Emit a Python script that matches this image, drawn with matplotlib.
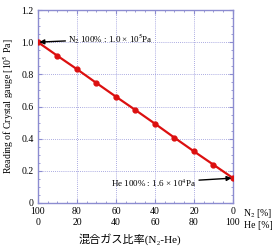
import matplotlib
matplotlib.use("Agg")
import matplotlib.pyplot as plt
from matplotlib.ticker import MultipleLocator

plt.rcParams.update({
    "font.family": ["Liberation Serif", "Noto Sans CJK JP"],
    "mathtext.fontset": "stix",
    "font.size": 7,
})

# N2 ratio [%] and crystal gauge reading [1e5 Pa]
n2_ratio = [100, 90, 80, 70, 60, 50, 40, 30, 20, 10, 0]
reading = [1.0, 0.915, 0.832, 0.746, 0.661, 0.578, 0.493, 0.406, 0.321, 0.238, 0.155]
x_ticks = [100, 80, 60, 40, 20, 0]
x_ticklabels = ["100\n0", "80\n20", "60\n40", "40\n60", "20\n80", "0\n100"]

axis_col = "#8c8cd0"
red = "#dc1010"

fig = plt.figure(figsize=(2.77, 2.5), dpi=100)
ax = fig.add_axes([0.137, 0.188, 0.704, 0.772])

ax.plot(n2_ratio, reading, color=red, lw=1.6, marker="o", ms=3.5, zorder=3)

ax.set_xlim(100, 0)
ax.set_ylim(0, 1.2)
ax.set_xticks(x_ticks)
ax.set_xticklabels(x_ticklabels, linespacing=1.3)
ax.set_yticks([0, 0.2, 0.4, 0.6, 0.8, 1.0, 1.2])
ax.set_yticklabels(["0", "0.2", "0.4", "0.6", "0.8", "1.0", "1.2"])
ax.xaxis.set_minor_locator(MultipleLocator(5))
ax.yaxis.set_minor_locator(MultipleLocator(0.05))
ax.tick_params(which="both", direction="in", top=True, right=True,
               color=axis_col, labelsize=7, pad=3)
ax.tick_params(which="major", length=3)
ax.tick_params(which="minor", length=1.5)
for s in ax.spines.values():
    s.set_color(axis_col)
    s.set_linewidth(1.0)
ax.grid(True, which="major", color="#9090d8", ls=(0, (1, 1.5)), lw=0.6)

ax.set_ylabel("Reading of Crystal gauge [10$^5$ Pa]", fontsize=7, labelpad=4)

fig.text(0.876, 0.146, "N$_2$ [%]", fontsize=7, ha="left", va="center")
fig.text(0.882, 0.100, "He [%]", fontsize=7, ha="left", va="center")
fig.text(0.47, 0.045, "混合ガス比率(N₂-He)", fontsize=8, ha="center", va="center")

ax.annotate("N$_2$ 100% : 1.0 × 10$^5$Pa", xy=(n2_ratio[0], reading[0]),
            xytext=(84.5, 1.02), fontsize=6.5, va="center",
            arrowprops=dict(arrowstyle="-|>", color="black", lw=1.0,
                            mutation_scale=7, shrinkA=0, shrinkB=1))
ax.annotate("He 100% : 1.6 × 10$^4$Pa", xy=(n2_ratio[-1], reading[-1]),
            xytext=(62.5, 0.125), fontsize=6.5, va="center",
            arrowprops=dict(arrowstyle="-|>", color="black", lw=1.0,
                            mutation_scale=7, shrinkA=0, shrinkB=1))

fig.savefig("out.png", dpi=100)
